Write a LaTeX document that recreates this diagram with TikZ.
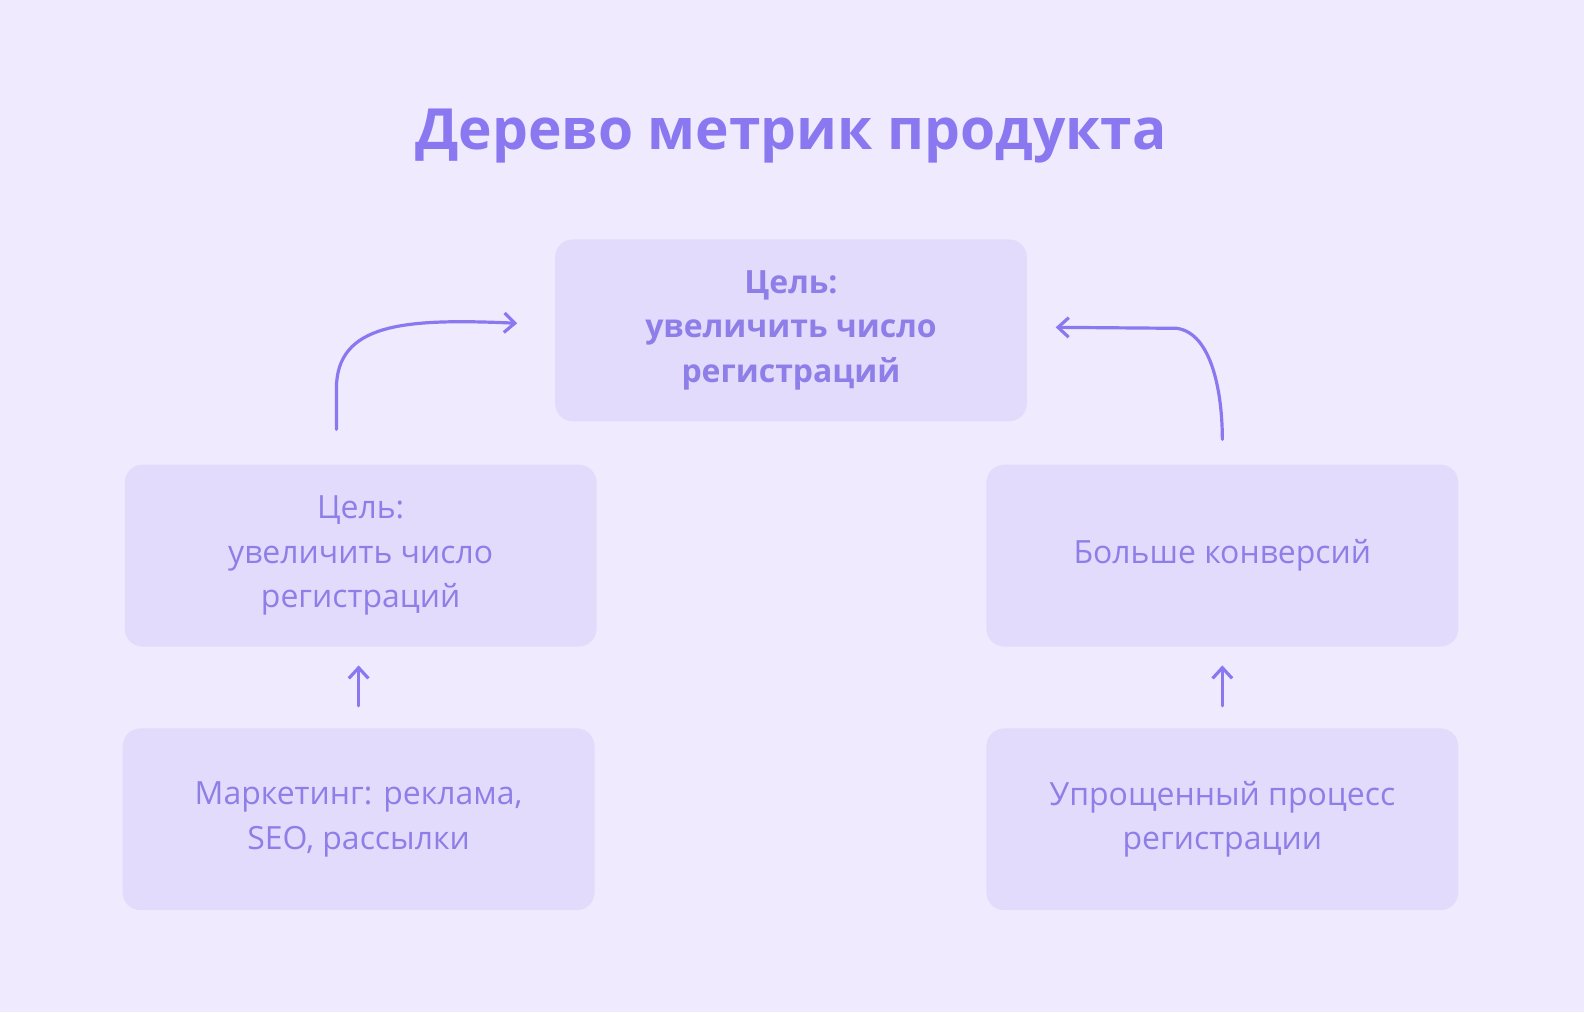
\documentclass[tikz,border=0pt]{standalone}
\usepackage{fontspec}
\setmainfont{Open Sans}
\usetikzlibrary{arrows.meta}
\definecolor{bg}{HTML}{F0EAFE}
\definecolor{boxc}{HTML}{E3DBFC}
\definecolor{txt}{HTML}{8D7EE8}
\definecolor{ttl}{HTML}{8A78F0}
\definecolor{arr}{HTML}{8A78F0}
\begin{document}
\begin{tikzpicture}[x=0.02cm,y=-0.02cm,
  box/.style={fill=boxc,rounded corners=10pt,minimum width=467*0.02cm,minimum height=180*0.02cm,align=center,text=txt,font=\fontsize{18}{25}\selectfont,inner sep=0pt},
  arrw/.style={draw=arr,line width=1.8pt,line cap=round,-{Straight Barb[length=6pt,width=11pt]}}]
\fill[bg] (0,0) rectangle (1568,1002);
\node[text=ttl,font=\fontsize{32}{40}\selectfont\bfseries] (title) at (783,135) {Дерево метрик продукта};
\node[box,font=\fontsize{18}{25}\selectfont\bfseries] (top) at (783,327) {Цель:\\увеличить число\\регистраций};
\node[box] (lm) at (357,550) {Цель:\\увеличить число\\регистраций};
\node[box] (rm) at (1210,550) {Больше конверсий};
\node[box] (lb) at (355,811) {Маркетинг: реклама,\\SEO, рассылки};
\node[box] (rb) at (1210,811) {Упрощенный процесс\\регистрации};
\coordinate (a1) at (333,425);
\coordinate (a2) at (512,320);
\coordinate (b1) at (1210,435);
\coordinate (b2) at (1045,324);
\draw[arrw] (a1) -- (333,385) .. controls (333,320) and (400,315) .. (a2);
\draw[arrw] (b1) .. controls (1210,390) and (1200,330) .. (1165,325) -- (b2);
\draw[arrw] (lb.north) ++(0,-22) -- ++(0,-40);
\draw[arrw] (rb.north) ++(0,-22) -- ++(0,-40);
\end{tikzpicture}
\end{document}
